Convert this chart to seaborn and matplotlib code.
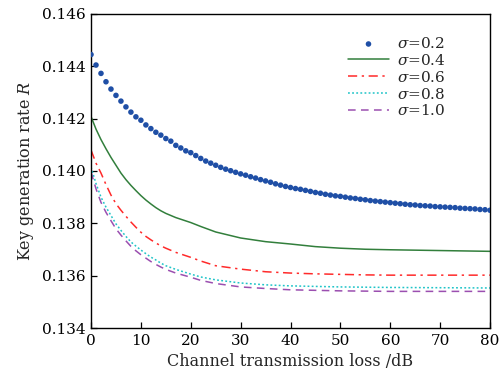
import numpy as np
import pandas as pd
import matplotlib
matplotlib.use("Agg")
import matplotlib.pyplot as plt
import seaborn as sns

# ---- data ----
loss_dots = list(range(0, 81))
r_s02 = [0.14445, 0.14405, 0.14373, 0.14341, 0.14313, 0.14289, 0.14267, 0.14245, 0.14225, 0.14207,
         0.14194, 0.14176, 0.14162, 0.14148, 0.14137, 0.14124, 0.14114, 0.14098, 0.14088, 0.14077,
         0.14070, 0.14059, 0.14048, 0.14038, 0.14030, 0.14022, 0.14014, 0.14007, 0.14001, 0.13995,
         0.13989, 0.13984, 0.13978, 0.13973, 0.13967, 0.13962, 0.13957, 0.13951, 0.13946, 0.13941,
         0.13937, 0.13933, 0.13930, 0.13926, 0.13922, 0.13918, 0.13915, 0.13911, 0.13908, 0.13905,
         0.13903, 0.13900, 0.13897, 0.13895, 0.13892, 0.13890, 0.13887, 0.13885, 0.13883, 0.13881,
         0.13879, 0.13877, 0.13875, 0.13873, 0.13871, 0.13870, 0.13868, 0.13867, 0.13866, 0.13864,
         0.13863, 0.13862, 0.13861, 0.13860, 0.13858, 0.13857, 0.13856, 0.13855, 0.13853, 0.13852,
         0.13850]

loss_lines = [0, 1, 2, 3, 4, 5, 6, 7, 8, 9, 10, 11, 12, 13, 14, 15, 17, 20, 22, 25,
              30, 35, 40, 45, 50, 55, 60, 70, 80]
r_s04 = [0.14208, 0.14160, 0.14120, 0.14085, 0.14052, 0.14022, 0.13992, 0.13967, 0.13945, 0.13925,
         0.13906, 0.13889, 0.13874, 0.13860, 0.13848, 0.13838, 0.13822, 0.13803, 0.13788, 0.13767,
         0.13744, 0.13730, 0.13721, 0.13711, 0.13705, 0.13701, 0.13699, 0.13696, 0.13693]
r_s06 = [0.14080, 0.14030, 0.13992, 0.13948, 0.13908, 0.13875, 0.13850, 0.13827, 0.13805, 0.13785,
         0.13766, 0.13750, 0.13737, 0.13725, 0.13714, 0.13705, 0.13689, 0.13670, 0.13656, 0.13638,
         0.13625, 0.13615, 0.13610, 0.13607, 0.13605, 0.13603, 0.13602, 0.13602, 0.13602]
r_s08 = [0.14015, 0.13952, 0.13900, 0.13862, 0.13830, 0.13798, 0.13773, 0.13750, 0.13729, 0.13713,
         0.13698, 0.13684, 0.13671, 0.13660, 0.13648, 0.13638, 0.13624, 0.13606, 0.13595, 0.13584,
         0.13572, 0.13565, 0.13561, 0.13559, 0.13557, 0.13556, 0.13555, 0.13554, 0.13553]
r_s10 = [0.13996, 0.13932, 0.13880, 0.13842, 0.13810, 0.13779, 0.13755, 0.13733, 0.13712, 0.13695,
         0.13680, 0.13667, 0.13654, 0.13643, 0.13633, 0.13624, 0.13610, 0.13594, 0.13582, 0.13570,
         0.13557, 0.13551, 0.13546, 0.13544, 0.13542, 0.13541, 0.13540, 0.13540, 0.13540]

x_ticks = [0, 10, 20, 30, 40, 50, 60, 70, 80]
y_ticks = [0.134, 0.136, 0.138, 0.140, 0.142, 0.144, 0.146]

# ---- style ----
sns.set_theme(style="ticks")
plt.rcParams['font.family'] = ['DejaVu Serif']
plt.rcParams['mathtext.fontset'] = 'dejavuserif'

fig = plt.figure(figsize=(4.99, 3.80), dpi=100)
ax = fig.add_axes([0.1824, 0.1368, 0.7996, 0.8264])

df_dots = pd.DataFrame({"loss": loss_dots, "R": r_s02})
sns.scatterplot(data=df_dots, x="loss", y="R", ax=ax, s=16, color="#1f4fa6",
                edgecolor="none", label=r"$\sigma$=0.2", zorder=5)

line_specs = [
    (r_s04, r"$\sigma$=0.4", "#327f3c", "-"),
    (r_s06, r"$\sigma$=0.6", "#ff2a2a", (0, (6, 3, 1.5, 3))),
    (r_s08, r"$\sigma$=0.8", "#1fc4c8", (0, (1.2, 1.5))),
    (r_s10, r"$\sigma$=1.0", "#9b4fb0", (0, (5, 3.5))),
]
for vals, lab, col, ls in line_specs:
    d = pd.DataFrame({"loss": loss_lines, "R": vals})
    sns.lineplot(data=d, x="loss", y="R", ax=ax, color=col, linestyle=ls,
                 linewidth=1.1, label=lab)

ax.set_xlim(0, 80)
ax.set_ylim(0.134, 0.146)
ax.set_xticks(x_ticks)
ax.set_yticks(y_ticks)
ax.set_xticklabels([str(t) for t in x_ticks])
ax.set_yticklabels([f"{t:.3f}" for t in y_ticks])
ax.tick_params(direction="in", length=4, width=0.9, labelsize=11, colors="black", pad=4)
for s in ax.spines.values():
    s.set_visible(True)
    s.set_color("black")
    s.set_linewidth(1.0)

ax.set_xlabel("Channel transmission loss /dB", fontsize=11.5, labelpad=4)
ax.set_ylabel(r"Key generation rate $R$", fontsize=11.5, labelpad=4)

leg = ax.legend(loc="upper right", frameon=False, fontsize=11, handlelength=2.7,
                labelspacing=0.12, borderaxespad=1.0, handletextpad=0.5,
                bbox_to_anchor=(0.942, 0.998))

fig.savefig("out.png", dpi=100)
